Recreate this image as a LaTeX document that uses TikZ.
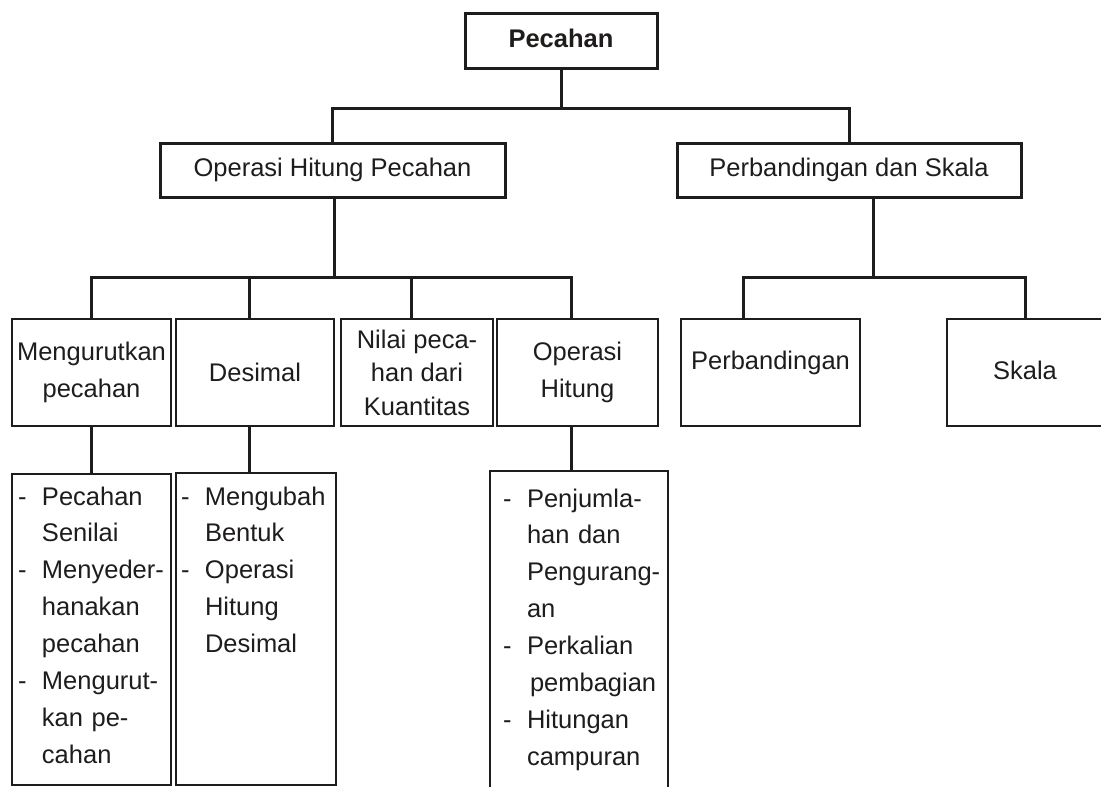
\documentclass[tikz,border=0pt]{standalone}
\usepackage{fontspec}
\setmainfont{Liberation Sans}
\usetikzlibrary{calc,positioning}
\definecolor{InkClr}{rgb}{0.12,0.11,0.11}
\newcommand{\chartsize}{\fontsize{25.5}{36.9}\selectfont}
\newcommand{\itemdash}{\makebox[24pt][l]{-}}
\newcommand{\itemgap}{\hspace*{24pt}}

\begin{document}
\begin{tikzpicture}[x=1pt,y=-1pt,
  every node/.style={font=\chartsize,text=InkClr,inner sep=0pt,outer sep=0pt},
  headbox/.style={draw=InkClr,line width=3pt,anchor=north west,text height=18.5pt,text depth=5.5pt},
  subbox/.style={draw=InkClr,line width=2pt,anchor=north west,align=center,minimum height=107pt},
  listbox/.style={draw=InkClr,line width=2pt,anchor=north west},
  listtext/.style={anchor=base west,text width=170pt,align=left},
  link/.style={draw=InkClr,line width=3pt}]
\useasboundingbox (0,0) rectangle (1101,787);
\clip (0,0) rectangle (1101,787);

\node[headbox,minimum width=192pt,minimum height=55pt,font=\chartsize\bfseries] (pec) at (465,13) {Pecahan};
\node[headbox,minimum width=345pt,minimum height=54pt] (ohp) at (160,143) {Operasi Hitung Pecahan};
\node[headbox,minimum width=344pt,minimum height=54pt] (pds) at (677,143) {Perbandingan dan Skala};

\node[subbox,minimum width=159pt] (mur) at (12,319) {Mengurutkan\\pecahan};
\node[subbox,minimum width=158pt] (des) at (176,319) {Desimal};
\node[subbox,minimum width=152pt,font=\fontsize{25.5}{33.5}\selectfont] (nil) at (341,319) {Nilai peca-\\han dari\\Kuantitas};
\node[subbox,minimum width=161pt] (opr) at (497,319) {Operasi\\Hitung};
\node[subbox,minimum width=179pt,text height=18.5pt,text depth=24pt] (prb) at (681,319) {Perbandingan};
\node[subbox,minimum width=156pt,text height=18.5pt,text depth=5.5pt] (skl) at (947,319) {Skala};

\node[listbox,minimum width=159pt,minimum height=311pt] (lmur) at (12,474) {};
\node[listbox,minimum width=160pt,minimum height=312pt] (ldes) at (176,473) {};
\node[listbox,minimum width=178pt,minimum height=340pt] (lopr) at (490,471) {};

\node[listtext] (tmur) at ($(lmur.north west)+(6,31)$) {\itemdash Pecahan\\ \itemgap Senilai\\ \itemdash Menyeder-\\ \itemgap hanakan\\ \itemgap pecahan\\ \itemdash Mengurut-\\ \itemgap kan pe-\\ \itemgap cahan};
\node[listtext] (tdes) at ($(ldes.north west)+(5,32)$) {\itemdash Mengubah\\ \itemgap Bentuk\\ \itemdash Operasi\\ \itemgap Hitung\\ \itemgap Desimal};
\node[listtext] (topr) at ($(lopr.north west)+(13,36)$) {\itemdash Penjumla-\\ \itemgap han dan\\ \itemgap Pengurang-\\ \itemgap an\\ \itemdash Perkalian\\ \itemgap\hspace*{3pt}pembagian\\ \itemdash Hitungan\\ \itemgap campuran};

% connectors
\coordinate (busTop) at ($(pec.south)+(0,40)$);
\draw[link] (pec.south) -- (busTop);
\draw[link] (ohp.north) |- (busTop) -| (pds.north);

\coordinate (busOhp) at ($(ohp.south)+(1.5,80)$);
\coordinate (desTop) at ($(des.north)+(-6,0)$);
\coordinate (nilTop) at ($(nil.north)+(-6,0)$);
\coordinate (oprTop) at ($(opr.north)+(-6,0)$);
\draw[link] (busOhp |- ohp.south) -- (busOhp);
\draw[link] (mur.north) |- (busOhp) -| (oprTop);
\draw[link] (desTop) -- (desTop |- busOhp);
\draw[link] (nilTop) -- (nilTop |- busOhp);

\coordinate (busPds) at ($(pds.south)+(24,80)$);
\coordinate (prbTop) at ($(prb.north west)+(62,0)$);
\draw[link] (busPds |- pds.south) -- (busPds);
\draw[link] (prbTop) |- (busPds) -| (skl.north);

\draw[link] (mur.south) -- (lmur.north);
\draw[link] (desTop |- des.south) -- (desTop |- ldes.north);
\draw[link] (oprTop |- opr.south) -- (oprTop |- lopr.north);

\end{tikzpicture}
\end{document}
